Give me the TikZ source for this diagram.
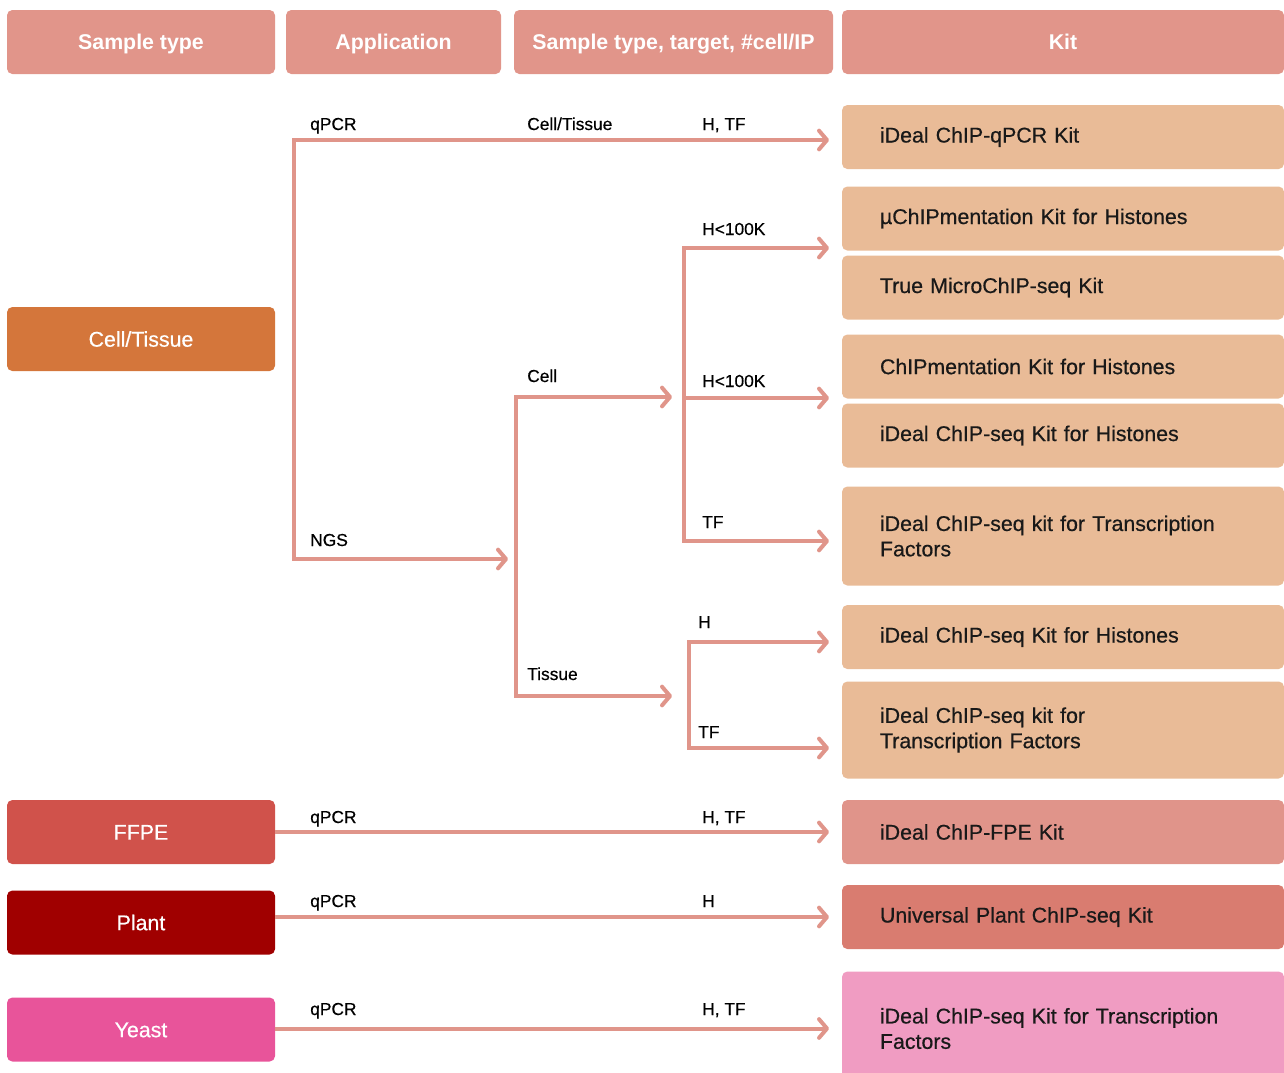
\documentclass[tikz,border=0pt]{standalone}
\usepackage{fontspec}
\setmainfont{Liberation Sans}
\newfontfamily\midfont{Liberation Sans}[FakeBold=0.5]
\usepackage{xcolor}
\usepackage{tikz}
\usetikzlibrary{arrows.meta}

\definecolor{headbg}{HTML}{E1958A}
\definecolor{cellbg}{HTML}{D4763B}
\definecolor{ffpebg}{HTML}{D0524B}
\definecolor{plantbg}{HTML}{A00000}
\definecolor{yeastbg}{HTML}{E8549A}
\definecolor{kitbg}{HTML}{E9BB97}
\definecolor{kitffpe}{HTML}{E0948A}
\definecolor{kitplant}{HTML}{D97C70}
\definecolor{kityeast}{HTML}{F09CC2}
\definecolor{wirecol}{HTML}{E0958A}

\tikzset{
  hdr/.style={fill=headbg, rounded corners=4pt, minimum height=48pt, inner sep=0pt,
    text height=13pt, text depth=1.5pt,
    text=white, font=\fontsize{16}{19}\selectfont\bfseries},
  sample/.style={rounded corners=4pt, minimum width=201pt, minimum height=48pt, inner sep=0pt,
    text height=13pt, text depth=1.5pt,
    text=white, font=\fontsize{16}{19}\midfont},
  kit/.style={fill=kitbg, rounded corners=4pt, minimum width=331.5pt, text width=274.5pt,
    inner xsep=28.5pt, inner ysep=0pt, align=left, text=black!90,
    font=\fontsize{16}{19}\midfont},
  lab/.style={anchor=base west, inner sep=0pt, font=\fontsize{13}{15}\midfont},
  wire/.style={draw=wirecol, line width=3pt, line cap=rect},
  flow/.style={draw=wirecol, line width=3pt, -{Straight Barb[length=6pt,width=14pt,round]}},
}

\begin{document}
\begin{tikzpicture}[x=0.75pt,y=-0.75pt]
  \useasboundingbox (0,0) rectangle (1284,1072);
  \clip (0,0) rectangle (1284,1072);

  % column heads
  \node[hdr, minimum width=201pt] (h1) at (141,42) {Sample type};
  \node[hdr, minimum width=161.25pt] (h2) at (393.5,42) {Application};
  \node[hdr, minimum width=239.25pt] (h3) at (673.5,42) {Sample type, target, \#cell/IP};
  \node[hdr, minimum width=331.5pt] (h4) at (1063,42) {Kit};

  % sample types
  \node[sample, fill=cellbg] (cell) at (141,339) {Cell/Tissue};
  \node[sample, fill=ffpebg] (ffpe) at (141,832) {FFPE};
  \node[sample, fill=plantbg] (plant) at (141,922.5) {Plant};
  \node[sample, fill=yeastbg] (yeast) at (141,1029.5) {Yeast};

  % kits
  \foreach \n/\y/\h/\t in {
      kq/137/48pt/{iDeal ChIP-qPCR Kit},
      kmu/218.5/48pt/{µChIPmentation Kit for Histones},
      kmc/287.5/48pt/{True MicroChIP-seq Kit},
      kcm/366.5/48pt/{ChIPmentation Kit for Histones},
      kh1/435.5/48pt/{iDeal ChIP-seq Kit for Histones},
      ktf1/536/74.25pt/{iDeal ChIP-seq kit for Transcription\\Factors},
      kh2/637/48pt/{iDeal ChIP-seq Kit for Histones},
      ktf2/730/72.75pt/{iDeal ChIP-seq kit for\\Transcription Factors}} {
    \node[kit, minimum height=\h] (\n) at (1063,\y) {\t};
  }
  \node[kit, fill=kitffpe, minimum height=48pt] (kffpe) at (1063,832) {iDeal ChIP-FPE Kit};
  \node[kit, fill=kitplant, minimum height=48pt] (kplant) at (1063,917) {Universal Plant ChIP-seq Kit};
  \node[kit, fill=kityeast, minimum height=85.5pt] (kyeast) at (1063,1028.5) {iDeal ChIP-seq Kit for Transcription\\Factors};

  % branch points
  \coordinate (tip) at (829,0);
  \coordinate (qpcr) at (294,140);
  \coordinate (ngs) at (294,559);
  \coordinate (cl) at (516,397);
  \coordinate (ts) at (516,696);
  \coordinate (c1) at (684,248);
  \coordinate (c2) at (684,398);
  \coordinate (c3) at (684,541);
  \coordinate (t1) at (689,642);
  \coordinate (t2) at (689,748);

  % cell/tissue tree
  \draw[wire] (qpcr) -- (ngs);
  \draw[wire] (cl) -- (ts);
  \draw[wire] (c1) -- (c3);
  \draw[wire] (t1) -- (t2);
  \draw[flow] (qpcr) -- (qpcr -| tip);
  \draw[flow, shorten >=6pt] (ngs) -- (ngs -| cl);
  \draw[flow, shorten >=9pt] (cl) -- (cl -| c1);
  \draw[flow, shorten >=12.75pt] (ts) -- (ts -| t1);
  \foreach \c in {c1,c2,c3,t1,t2} {
    \draw[flow] (\c) -- (\c -| tip);
  }

  % other samples
  \draw[flow] (ffpe.east |- kffpe) -- (kffpe -| tip);
  \draw[flow] (plant.east |- kplant) -- (kplant -| tip);
  \draw[flow] (yeast.east |- kyeast) -- (kyeast -| tip);

  % labels
  \foreach \x/\y/\t [count=\i] in {
      310/130/qPCR, 527/130/{Cell/Tissue}, 702/130/{H, TF}, 310/546/NGS,
      527/382/Cell, 527/680/Tissue, 702/235/H<100K, 702/387/H<100K,
      702/528/TF, 698/628/H, 698/738/TF, 310/823/qPCR, 702/823/{H, TF},
      310/907/qPCR, 702/907/H, 310/1015/qPCR, 702/1015/{H, TF}} {
    \node[lab] (lab\i) at (\x,\y) {\t};
  }
\end{tikzpicture}
\end{document}
